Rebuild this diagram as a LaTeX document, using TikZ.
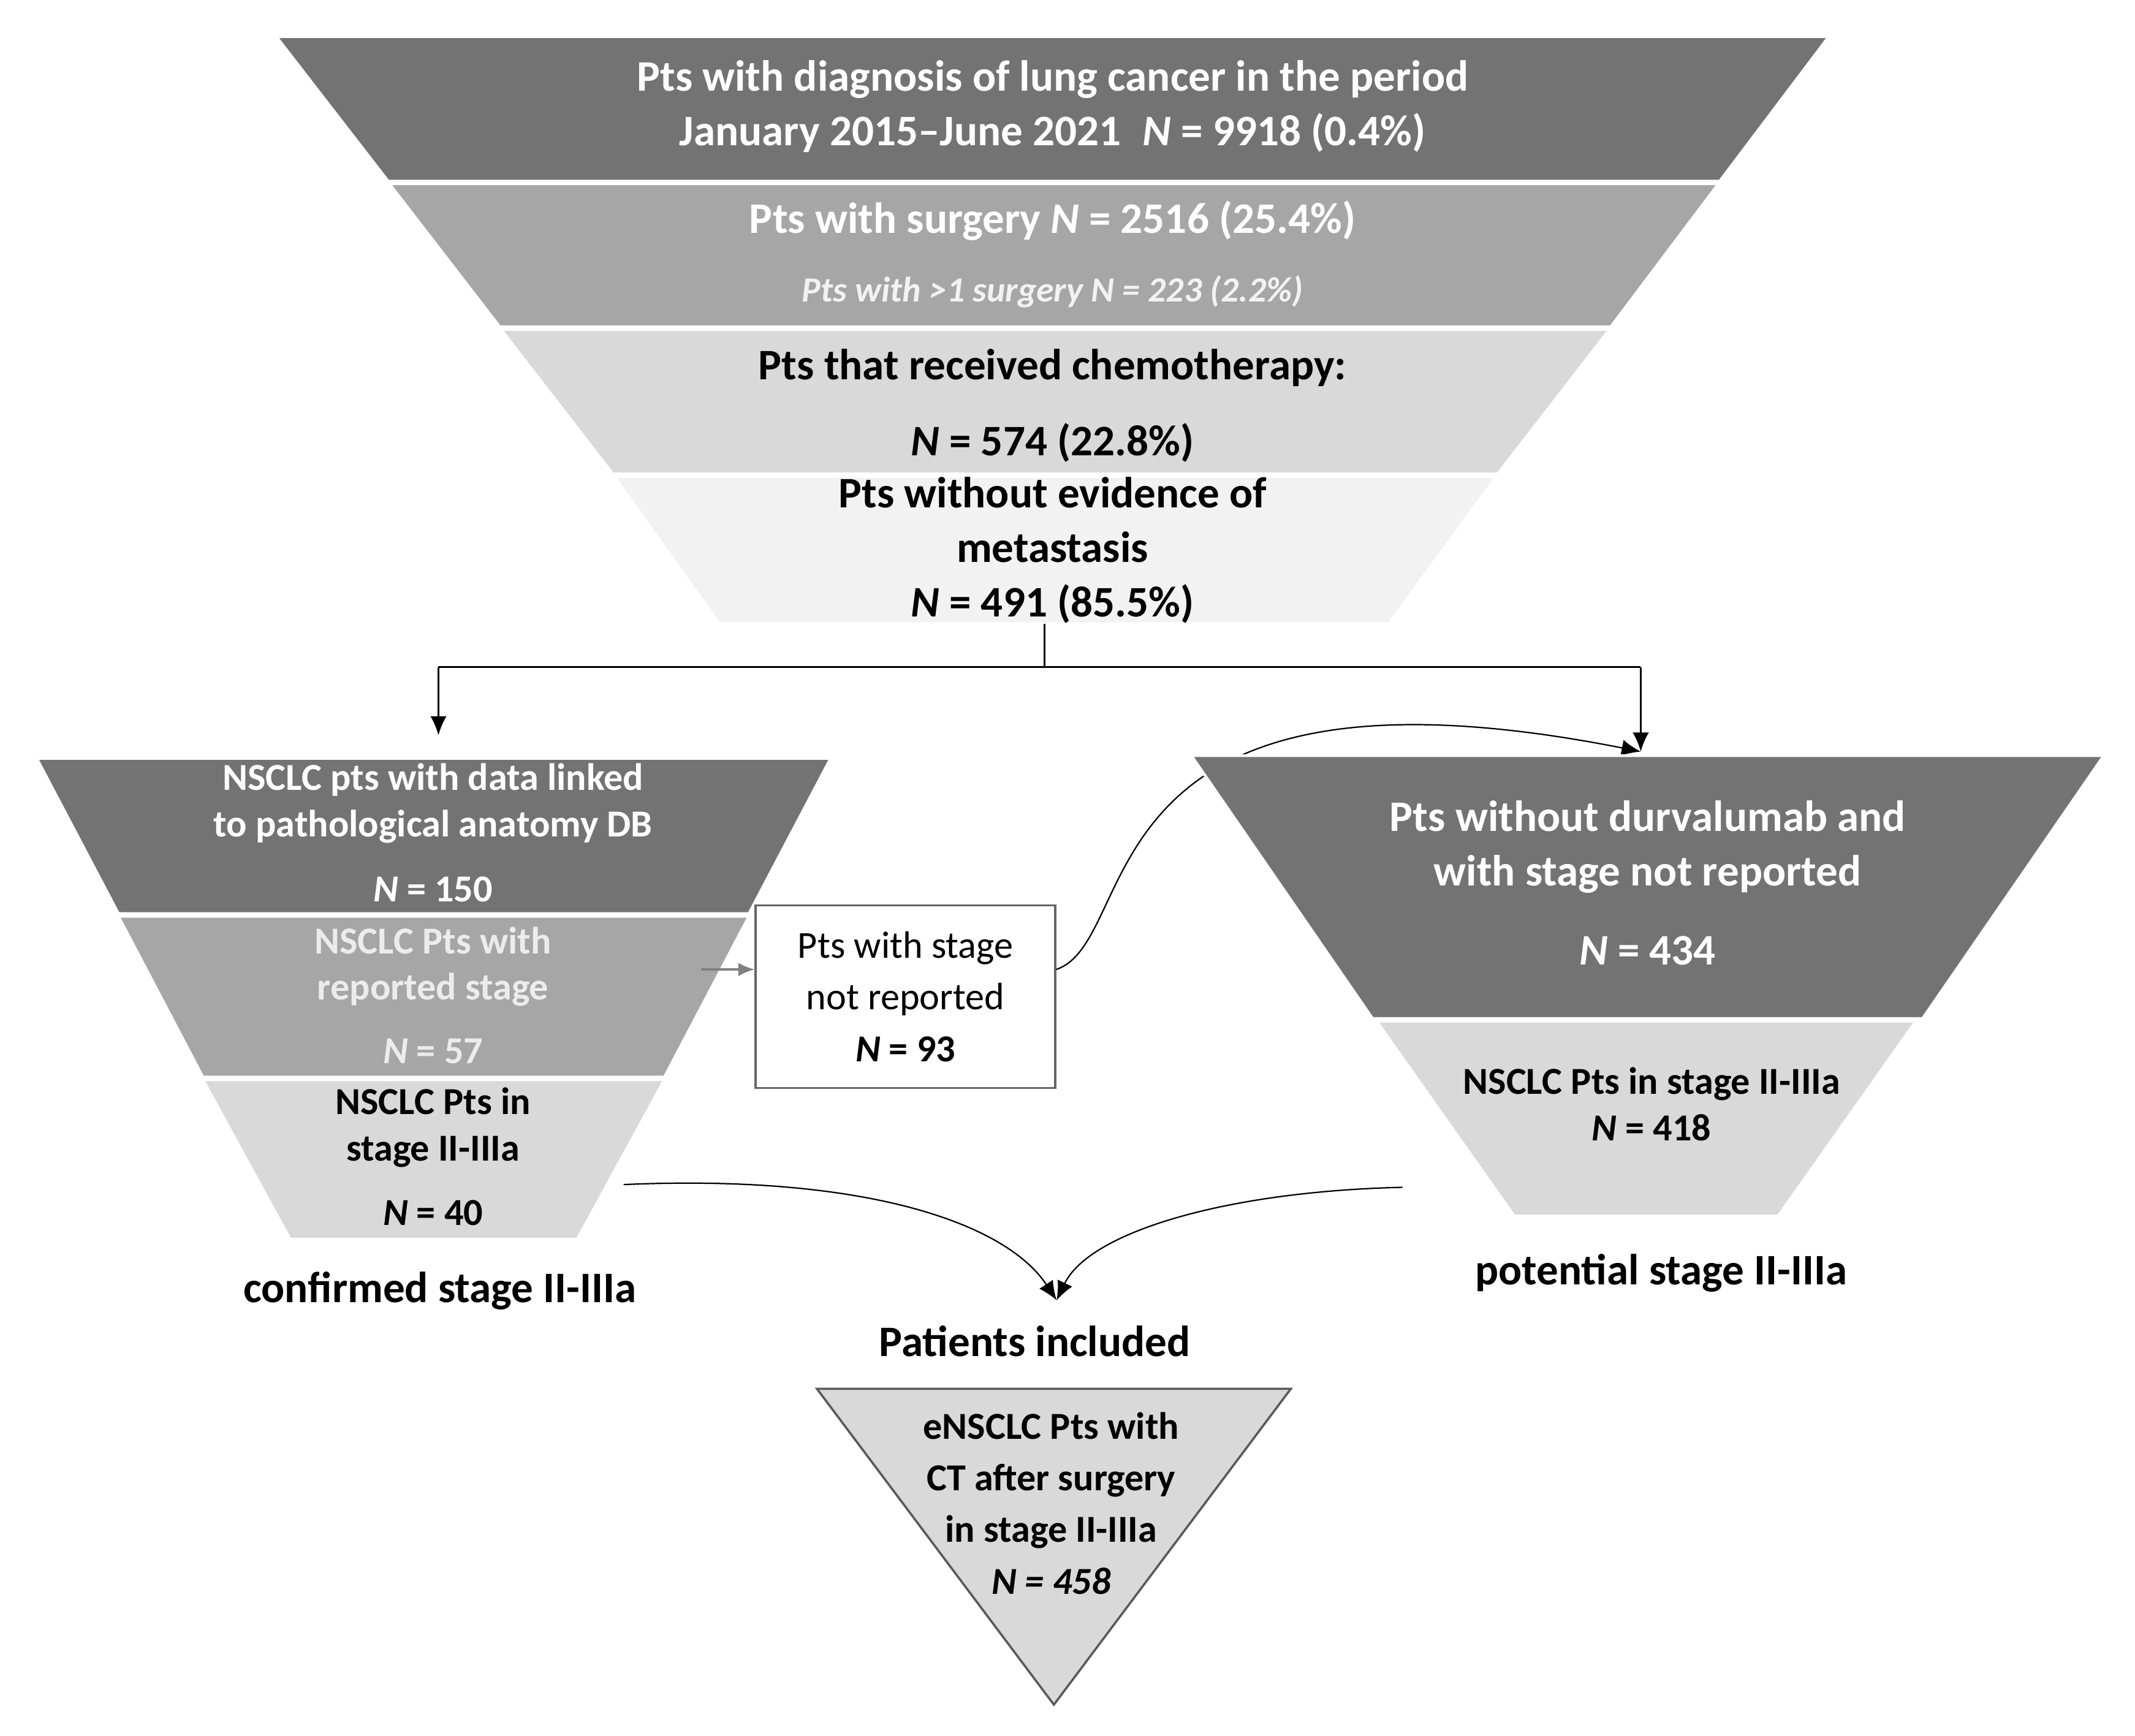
\documentclass[tikz,border=0pt]{standalone}
\usepackage{fontspec}
\setmainfont{Carlito}
\usetikzlibrary{positioning}
\definecolor{gA}{gray}{0.45}
\definecolor{gB}{gray}{0.65}
\definecolor{gC}{gray}{0.85}
\definecolor{gD}{gray}{0.95}
\tikzset{
  band/.style={draw=white, line width=1pt},
  lbl/.style={align=center, font=\bfseries, inner sep=0pt},
  link/.style={-{Latex[length=7pt,width=6pt]}, line width=0.7pt},
}
\usetikzlibrary{arrows.meta}
\begin{document}
\begin{tikzpicture}[x=0.5pt,y=-0.5pt]
\useasboundingbox (0,0) rectangle (1568,1275);
% top funnel
\fill[gA,band] (203,27) -- (1343,27) -- (1263,133) -- (285,133) -- cycle;
\fill[gB,band] (286,135) -- (1262,135) -- (1183,240) -- (367,240) -- cycle;
\fill[gC,band] (368,242) -- (1182,242) -- (1100,348) -- (450,348) -- cycle;
\fill[gD,band] (451,350) -- (1099,350) -- (1020,458) -- (528,458) -- cycle;
\node[lbl, white, font=\bfseries\fontsize{16}{20}\selectfont] (t1) at (773,78) {Pts with diagnosis of lung cancer in the period\\January 2015--June 2021\enspace\textit{N} = 9918 (0.4\%)};
\node[lbl, white, font=\bfseries\fontsize{16}{20}\selectfont] (t2) at (773,162) {Pts with surgery \textit{N} = 2516 (25.4\%)};
\node[lbl, gray!10, font=\bfseries\itshape\fontsize{13}{16}\selectfont] (t2b) at (773,214) {Pts with >1 surgery N = 223 (2.2\%)};
\node[lbl, font=\bfseries\fontsize{16}{20}\selectfont] (t3) at (773,270) {Pts that received chemotherapy:};
\node[lbl, font=\bfseries\fontsize{16}{20}\selectfont] (t3b) at (773,325) {\textit{N} = 574 (22.8\%)};
\node[lbl, font=\bfseries\fontsize{16}{20}\selectfont] (t4) at (773,404) {Pts without evidence of\\metastasis\\\textit{N} = 491 (85.5\%)};
\coordinate (split) at (767,490);
\coordinate (sl) at (322,490);
\coordinate (sr) at (1205,490);
\coordinate (ltop) at (322,540);
\coordinate (rtop) at (1205,552);
\draw[line width=0.7pt] (767,458) -- (split);
\draw[line width=0.7pt] (sl) -- (sr);
\draw[link] (sl) -- (ltop);
\draw[link] (sr) -- (rtop);
% left funnel
\fill[gA,band] (27,557) -- (610,557) -- (550,671) -- (87,671) -- cycle;
\fill[gB,band] (87,673) -- (550,673) -- (488,791) -- (149,791) -- cycle;
\fill[gC,band] (149,793) -- (488,793) -- (424,910) -- (213,910) -- cycle;
\node[lbl, white, font=\bfseries\fontsize{14}{17}\selectfont] (l1) at (318,590) {NSCLC pts with data linked\\to pathological anatomy DB};
\node[lbl, white, font=\bfseries\fontsize{14}{17}\selectfont] (l1b) at (318,653) {\textit{N} = 150};
\node[lbl, gray!15, font=\bfseries\fontsize{14}{17}\selectfont] (l2) at (318,710) {NSCLC Pts with\\reported stage};
\node[lbl, gray!15, font=\bfseries\fontsize{14}{17}\selectfont] (l2b) at (318,772) {\textit{N} = 57};
\node[lbl, font=\bfseries\fontsize{14}{17}\selectfont] (l3) at (318,828) {NSCLC Pts in\\stage II-IIIa};
\node[lbl, font=\bfseries\fontsize{14}{17}\selectfont] (l3b) at (318,891) {\textit{N} = 40};
\node[lbl, font=\bfseries\fontsize{16}{20}\selectfont] (conf) at (323,948) {confirmed stage II-IIIa};
% middle box
\node[draw=gray!80!black, line width=0.8pt, fill=white, minimum width=110pt, minimum height=67pt, align=center, font=\fontsize{14}{19}\selectfont, inner sep=2pt] (box) at (665,732) {Pts with stage\\not reported\\\textbf{\textit{N} = 93}};
\coordinate (l2r) at (515,712);
\draw[-{Latex[length=6pt,width=5pt]}, gray, line width=0.7pt] (l2r) -- (box.west |- l2r);
\draw[link, line width=0.5pt] (box.east |- l2r) .. controls (840,690) and (790,470) .. (rtop);
% right funnel
\fill[gA,band] (875,555) -- (1545,555) -- (1412,748) -- (1008,748) -- cycle;
\fill[gC,band] (1011,750) -- (1407,750) -- (1306,893) -- (1112,893) -- cycle;
\node[lbl, white, font=\bfseries\fontsize{16}{20}\selectfont] (r1) at (1210,622) {Pts without durvalumab and\\with stage not reported};
\node[lbl, white, font=\bfseries\fontsize{16}{20}\selectfont] (r1b) at (1210,698) {\textit{N} = 434};
\node[lbl, font=\bfseries\fontsize{14}{17}\selectfont] (r2) at (1213,811) {NSCLC Pts in stage II-IIIa\\\textit{N} = 418};
\node[lbl, font=\bfseries\fontsize{16}{20}\selectfont] (pot) at (1220,935) {potential stage II-IIIa};
% bottom
\coordinate (lend) at (458,870);
\coordinate (rend) at (1030,872);
\coordinate (meet) at (776,955);
\draw[link, line width=0.5pt] (lend) .. controls (640,862) and (740,900) .. (meet);
\draw[link, line width=0.5pt] (rend) .. controls (900,875) and (800,905) .. (meet);
\node[lbl, font=\bfseries\fontsize{16}{20}\selectfont] (incl) at (760,985) {Patients included};
\fill[gC, draw=gray!70!black, line width=0.8pt] (600,1020) -- (948,1020) -- (774,1252) -- cycle;
\node[lbl, font=\bfseries\fontsize{14}{19}\selectfont] (fin) at (772,1104) {eNSCLC Pts with\\CT after surgery\\in stage II-IIIa\\\textit{N = 458}};
\end{tikzpicture}
\end{document}
